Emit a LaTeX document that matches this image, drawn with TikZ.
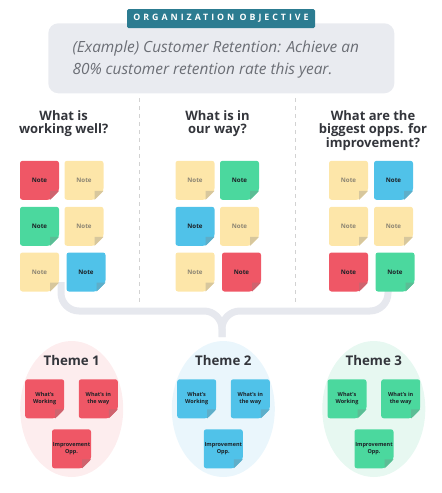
\documentclass[tikz,border=0pt]{standalone}
\usepackage{fontspec}
\setmainfont{Open Sans}
\usetikzlibrary{shapes.geometric}

\definecolor{notered}{HTML}{EF5766}
\definecolor{noteyellow}{HTML}{FDE6A9}
\definecolor{notegreen}{HTML}{4BD89E}
\definecolor{noteblue}{HTML}{50C2E9}
\definecolor{tagteal}{HTML}{2C7C91}
\definecolor{boxgray}{HTML}{E9EBF0}
\definecolor{bracegray}{HTML}{E6E8EE}
\definecolor{headtext}{HTML}{33353B}
\definecolor{objtext}{HTML}{6B6E75}
\definecolor{inkdark}{HTML}{1C2126}
\definecolor{inkpale}{HTML}{8C8573}
\definecolor{bgred}{HTML}{FDEDEE}
\definecolor{bgblue}{HTML}{EAF6FC}
\definecolor{bggreen}{HTML}{E7F8F1}

\tikzstyle{note} = [minimum size=39pt,inner sep=0pt,align=center,font=\bfseries\fontsize{6.2}{7}\selectfont]
\tikzstyle{themenote} = [note,font=\bfseries\fontsize{5.5}{6.8}\selectfont,text=inkdark]
\tikzstyle{header} = [align=center,font=\bfseries\fontsize{13}{13.5}\selectfont,text=headtext]
\tikzstyle{themetitle} = [font=\bfseries\fontsize{13.3}{16}\selectfont,text=headtext]
\tikzstyle{themebg} = [ellipse,minimum width=103pt,minimum height=136pt,inner sep=0pt]
\tikzstyle{divider} = [draw=gray!35,line width=0.8pt,dash pattern=on 4pt off 4pt]
\tikzstyle{brace} = [draw=bracegray,line width=7pt,rounded corners=18pt]
\tikzstyle{tagbox} = [fill=tagteal,minimum width=188pt,minimum height=19pt,inner sep=0pt,rounded corners=1.5pt,text=white,font=\bfseries\fontsize{8.8}{10}\selectfont\addfontfeatures{LetterSpace=34}]

\begin{document}
\begin{tikzpicture}[x=1pt,y=-1pt]
      \useasboundingbox (0,0) rectangle (442,493);

      %objective
      \node[fill=boxgray,rounded corners=10pt,minimum width=346pt,minimum height=70pt] (objective) at (221.3,58.3) {};
      \node[anchor=west,align=left,text=objtext,font=\itshape\fontsize{15.4}{21.5}\selectfont] (objtext) at (69,59.5)
        {(Example) Customer Retention: Achieve an\\80\% customer retention rate this year.};
      \node[tagbox] (tag) at (221,18.7) {ORGANIZATION OBJECTIVE};

      %headers
      \node[header] (head1) at (63.7,123.5) {What is\\working well?};
      \node[header] (head2) at (217.5,123.5) {What is in\\our way?};
      \node[header] (head3) at (373,130.5) {What are the\\biggest opps. for\\improvement?};

      %dividers
      \coordinate (divtop1) at (139.3,98);
      \coordinate (divbot1) at (139.3,305);
      \coordinate (divtop2) at (295,98);
      \coordinate (divbot2) at (295,305);
      \draw[divider] (divtop1) -- (divbot1);
      \draw[divider] (divtop2) -- (divbot2);

      %brace
      \coordinate (braceL) at (61,282);
      \coordinate (braceR) at (388,282);
      \coordinate (braceM) at (222,311);
      \coordinate (braceEnd) at (222,337);
      \draw[brace] (braceL) |- (braceM) -- (braceEnd);
      \draw[brace] (braceR) |- (braceM) -- (braceEnd);

      %notes
      \foreach \name/\x/\y/\notecolor/\ink in {
        n11/39.5/180.3/notered/inkdark, n12/84/180.3/noteyellow/inkpale,
        n13/39.5/226.3/notegreen/inkdark, n14/84/226.3/noteyellow/inkpale,
        n15/39.5/272/noteyellow/inkpale, n16/86/272/noteblue/inkdark,
        n21/195/180.3/noteyellow/inkpale, n22/239.5/180.3/notegreen/inkdark,
        n23/195/226.3/noteblue/inkdark, n24/239.5/226.3/noteyellow/inkpale,
        n25/195/272/noteyellow/inkpale, n26/241.5/272/notered/inkdark,
        n31/348.5/180.3/noteyellow/inkpale, n32/393.5/180.3/noteblue/inkdark,
        n33/348.5/226.3/noteyellow/inkpale, n34/393.5/226.3/noteyellow/inkpale,
        n35/348.5/272/notered/inkdark, n36/395/272/notegreen/inkdark}
      {
        \fill[\notecolor,rounded corners=2.5pt] (\x-19.5,\y-19.5) -- (\x+19.5,\y-19.5) -- (\x+19.5,\y+10.5)
          -- (\x+10.5,\y+19.5) -- (\x-19.5,\y+19.5) -- cycle;
        \fill[\notecolor!70!gray] (\x+19.5,\y+10.5) -- (\x+10.5,\y+19.5) -- (\x+10.5,\y+10.5) -- cycle;
        \node[note,text=\ink] (\name) at (\x,\y) {Note};
      };

      %themes
      \foreach \i/\x/\bg in {1/71.7/bgred, 2/223.3/bgblue, 3/373.8/bggreen}
      {
        \node[themebg,fill=\bg] (theme\i) at (\x,409) {};
        \node[themetitle] (title\i) at (\x,361) {Theme \i};
      };

      \foreach \name/\x/\y/\notecolor/\notetext in {
        t11/44.7/398.8/notered/What's\\Working, t12/98.3/398.8/notered/What's in\\the way,
        t13/71.5/448.8/notered/Improvement\\Opp.,
        t21/196.7/398.8/noteblue/What's\\Working, t22/250.3/398.8/noteblue/What's in\\the way,
        t23/223.3/448.8/noteblue/Improvement\\Opp.,
        t31/347/398.8/notegreen/What's\\Working, t32/400.7/398.8/notegreen/What's in\\the way,
        t33/374/448.8/notegreen/Improvement\\Opp.}
      {
        \fill[\notecolor,rounded corners=2.5pt] (\x-19.5,\y-19.5) -- (\x+19.5,\y-19.5) -- (\x+19.5,\y+10.5)
          -- (\x+10.5,\y+19.5) -- (\x-19.5,\y+19.5) -- cycle;
        \fill[\notecolor!70!gray] (\x+19.5,\y+10.5) -- (\x+10.5,\y+19.5) -- (\x+10.5,\y+10.5) -- cycle;
        \node[themenote] (\name) at (\x,\y) {\notetext};
      };
\end{tikzpicture}
\end{document}
